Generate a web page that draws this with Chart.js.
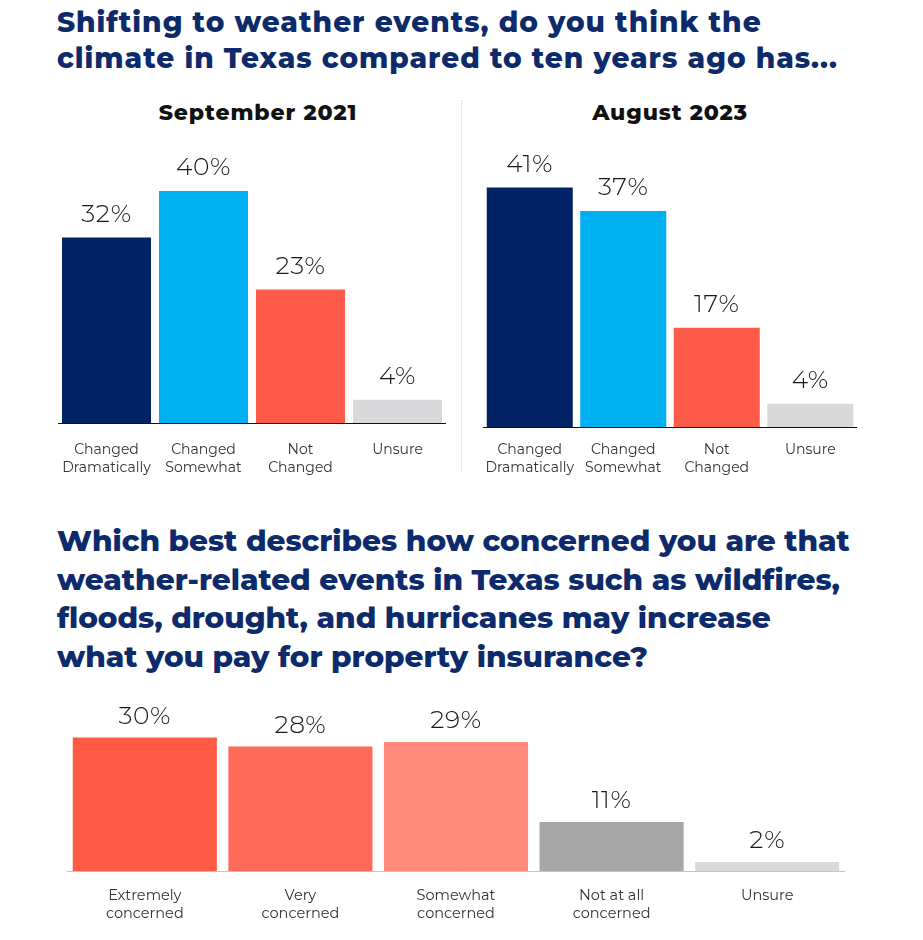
<!DOCTYPE html>
<html>
<head>
<meta charset="utf-8">
<script src="https://cdn.jsdelivr.net/npm/chart.js@4.4.0/dist/chart.umd.min.js"></script>
<style>
  html, body { margin: 0; padding: 0; background: #fff; }
  body { width: 923px; height: 940px; position: relative; overflow: hidden; }
  .title { position: absolute; left: 57px; color: #0d2a6b; font-family: "Montserrat", "Open Sans", sans-serif; font-weight: 800; white-space: nowrap; }
  #title1 { top: 4px; font-size: 28px; line-height: 36px; letter-spacing: 1px; }
  #title2 { top: 521px; font-size: 29.5px; line-height: 38.5px; letter-spacing: 0px; }
  .sub { position: absolute; top: 99px; font-family: "Montserrat", "Open Sans", sans-serif; font-weight: 800; font-size: 22px; letter-spacing: 0.9px; color: #111; text-align: center; width: 300px; }
  .sep { position: absolute; left: 461px; top: 100px; height: 372px; border-left: 1px dotted #d6d6d6; }
  .box { position: absolute; }
</style>
</head>
<body>
<div class="title" id="title1">Shifting to weather events, do you think the<br>climate in Texas compared to ten years ago has...</div>
<div class="sub" style="left:108px">September 2021</div>
<div class="sub" style="left:520px">August 2023</div>
<div class="sep"></div>
<div class="box" style="left:58px; top:133px; width:388px; height:350px;"><canvas id="c1"></canvas></div>
<div class="box" style="left:483px; top:135px; width:374px; height:352px;"><canvas id="c2"></canvas></div>
<div class="title" id="title2">Which best describes how concerned you are that<br>weather-related events in Texas such as wildfires,<br>floods, drought, and hurricanes may increase<br>what you pay for property insurance?</div>
<div class="box" style="left:67px; top:693px; width:778px; height:238px;"><canvas id="c3"></canvas></div>
<script>
// categories and values
const climateLabels = [['Changed', 'Dramatically'], ['Changed', 'Somewhat'], ['Not', 'Changed'], 'Unsure'];
const sep2021 = [32, 40, 23, 4];
const aug2023 = [41, 37, 17, 4];
const climateColors = ['#022366', '#00b0f0', '#ff5b4a', '#d9d9db'];

const concernLabels = [['Extremely', 'concerned'], ['Very', 'concerned'], ['Somewhat', 'concerned'], ['Not at all', 'concerned'], 'Unsure'];
const concernValues = [30, 28, 29, 11, 2];
const concernColors = ['#ff5a46', '#ff6a5a', '#ff8a7c', '#a6a6a6', '#d9d9db'];

const FONT = '"Montserrat", "Open Sans", sans-serif';

// draws the "xx%" text above each bar
const valueLabels = {
  id: 'valueLabels',
  afterDatasetsDraw(chart, args, opts) {
    const ctx = chart.ctx;
    const meta = chart.getDatasetMeta(0);
    ctx.save();
    ctx.font = opts.font;
    ctx.letterSpacing = '0.6px';
    ctx.fillStyle = opts.color;
    ctx.textAlign = 'center';
    ctx.textBaseline = 'middle';
    meta.data.forEach((bar, i) => {
      ctx.fillText(chart.data.datasets[0].data[i] + '%', bar.x, bar.y - opts.offset);
    });
    ctx.restore();
  }
};

function makeBar(id, labels, values, colors, o) {
  new Chart(document.getElementById(id), {
    type: 'bar',
    data: {
      labels: labels,
      datasets: [{ data: values, backgroundColor: colors, borderWidth: 0, barPercentage: o.barPct, categoryPercentage: 1 }]
    },
    options: {
      responsive: true,
      maintainAspectRatio: false,
      animation: false,
      layout: { padding: 0 },
      scales: {
        y: { display: false, min: 0, max: o.max },
        x: {
          // fixed axis height, no extra side padding for the edge labels
          afterFit: (scale) => { scale.height = 60; scale.paddingLeft = 0; scale.paddingRight = 0; },
          grid: { display: false, drawTicks: false },
          border: { display: true, color: o.axisColor, width: 1 },
          ticks: { padding: o.pad, color: '#333', font: { family: FONT, size: o.tickSize, lineHeight: 1.29 }, maxRotation: 0, autoSkip: false }
        }
      },
      plugins: {
        legend: { display: false },
        tooltip: { enabled: false },
        valueLabels: { font: '300 25px ' + FONT, color: '#1a1a1a', offset: o.offset }
      }
    },
    plugins: [valueLabels]
  });
}

makeBar('c1', climateLabels, sep2021, climateColors, { max: 50, barPct: 0.918, pad: 18, tickSize: 14, axisColor: '#111', offset: 23 });
makeBar('c2', climateLabels, aug2023, climateColors, { max: 50, barPct: 0.92, pad: 14, tickSize: 14, axisColor: '#111', offset: 23 });
makeBar('c3', concernLabels, concernValues, concernColors, { max: 40, barPct: 0.926, pad: 15, tickSize: 14.5, axisColor: '#c4c4c4', offset: 21 });
</script>
</body>
</html>
